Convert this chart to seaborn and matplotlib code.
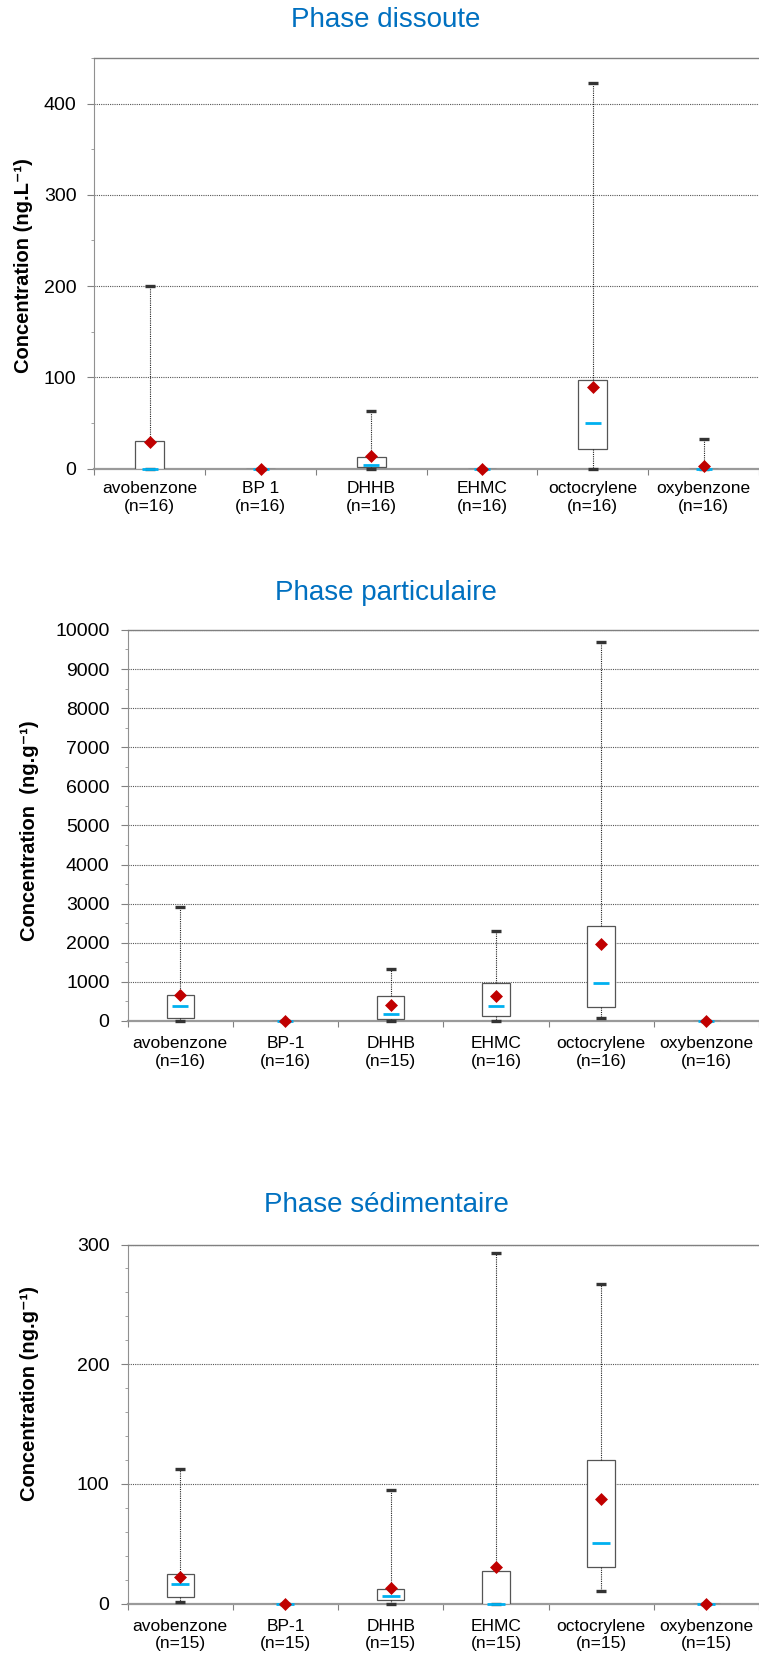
import numpy as np
import pandas as pd
import matplotlib
matplotlib.use("Agg")
import matplotlib.pyplot as plt
from matplotlib.ticker import MultipleLocator, FixedLocator
import seaborn as sns

# ---------------- data ----------------
title_1 = "Phase dissoute"
ylabel_1 = "Concentration (ng.L⁻¹)"
cats_1 = ["avobenzone", "BP 1", "DHHB", "EHMC", "octocrylene", "oxybenzone"]
n_1 = [16, 16, 16, 16, 16, 16]
min_1 = [0, 0, 0, 0, 0, 0]
q1_1 = [0, 0, 2, 0, 22, 0]
med_1 = [0, 0, 4, 0, 49.6, 0]
q3_1 = [30.7, 0, 13, 0, 97.4, 0]
max_1 = [200, 0, 63.5, 0, 422, 33]
mean_1 = [29, 0, 14, 0, 90, 3]

title_2 = "Phase particulaire"
ylabel_2 = "Concentration  (ng.g⁻¹)"
cats_2 = ["avobenzone", "BP-1", "DHHB", "EHMC", "octocrylene", "oxybenzone"]
n_2 = [16, 16, 15, 16, 16, 16]
min_2 = [0, 0, 0, 0, 80, 0]
q1_2 = [76, 0, 60, 120, 350, 0]
med_2 = [390, 0, 170, 370, 980, 0]
q3_2 = [660, 0, 650, 980, 2430, 0]
max_2 = [2920, 0, 1330, 2310, 9700, 0]
mean_2 = [670, 0, 400, 635, 1965, 0]

title_3 = "Phase sédimentaire"
ylabel_3 = "Concentration (ng.g⁻¹)"
cats_3 = ["avobenzone", "BP-1", "DHHB", "EHMC", "octocrylene", "oxybenzone"]
n_3 = [15, 15, 15, 15, 15, 15]
min_3 = [1, 0, 0, 0, 10.4, 0]
q1_3 = [5.6, 0, 3.1, 0, 30.3, 0]
med_3 = [16.3, 0, 6.7, 0, 51, 0]
q3_3 = [25, 0, 12.4, 27.5, 119.7, 0]
max_3 = [112.6, 0, 94.7, 293, 267, 0]
mean_3 = [22, 0, 13.2, 30.5, 87.4, 0]

# ---------------- style ----------------
sns.set_theme(style="white")
plt.rcParams["font.family"] = ["Liberation Sans", "DejaVu Sans"]

TITLE_COLOR = "#0070C0"
MEDIAN_COLOR = "#00B0F0"
MEAN_COLOR = "#C00000"
CAP_COLOR = "#333333"

panels = [
    dict(title=title_1, ylabel=ylabel_1, cats=cats_1, n=n_1, mn=min_1, q1=q1_1, med=med_1,
         q3=q3_1, mx=max_1, mean=mean_1, rect=[0.1244, 0.7168, 0.8756, 0.2482],
         ylim=(0, 450), major=100, minor=50, title_y=0.9835, lab_xy=(-0.1074, 0.495),
         box_w=0.26, med_size=11, xpad=9),
    dict(title=title_2, ylabel=ylabel_2, cats=cats_2, n=n_2, mn=min_2, q1=q1_2, med=med_2,
         q3=q3_2, mx=max_2, mean=mean_2, rect=[0.1682, 0.3831, 0.8318, 0.2363],
         ylim=(0, 10000), major=1000, minor=500, title_y=0.6375, lab_xy=(-0.155, 0.487),
         box_w=0.26, med_size=12, xpad=11),
    dict(title=title_3, ylabel=ylabel_3, cats=cats_3, n=n_3, mn=min_3, q1=q1_3, med=med_3,
         q3=q3_3, mx=max_3, mean=mean_3, rect=[0.1682, 0.0311, 0.8318, 0.2169],
         ylim=(0, 300), major=100, minor=20, title_y=0.2675, lab_xy=(-0.155, 0.584),
         box_w=0.26, med_size=12.5, xpad=11),
]

fig = plt.figure(figsize=(7.59, 16.55), dpi=100)

for p in panels:
    ax = fig.add_axes(p["rect"])
    labels = [f"{c}\n(n={n})" for c, n in zip(p["cats"], p["n"])]
    stats = np.column_stack([p["mn"], p["q1"], p["med"], p["q3"], p["mx"]])
    df = pd.DataFrame({"cat": np.repeat(labels, 5), "val": stats.ravel()})

    sns.boxplot(
        data=df, x="cat", y="val", order=labels, ax=ax,
        whis=(0, 100), width=p["box_w"], color="white", linecolor="#555555",
        linewidth=0.9, showfliers=False, showcaps=False,
        boxprops=dict(facecolor="white", edgecolor="#555555", zorder=2),
        whiskerprops=dict(color="#222222", linestyle=(0, (1, 1)), linewidth=0.8),
        medianprops=dict(visible=False),
    )

    # whisker caps (min / max)
    for ends in (p["mn"], p["mx"]):
        sns.stripplot(x=labels, y=ends, order=labels, ax=ax, jitter=False,
                      marker="_", size=6.8, linewidth=2.4, color=CAP_COLOR,
                      clip_on=False, zorder=3)
    # medians
    sns.stripplot(x=labels, y=p["med"], order=labels, ax=ax, jitter=False,
                  marker="_", size=p["med_size"], linewidth=2.0, color=MEDIAN_COLOR,
                  clip_on=False, zorder=4)
    # means
    sns.stripplot(x=labels, y=p["mean"], order=labels, ax=ax, jitter=False,
                  marker="D", size=6.6, linewidth=0, color=MEAN_COLOR,
                  clip_on=False, zorder=5)

    ax.set_xlim(-0.5, len(labels) - 0.5)
    ax.set_ylim(*p["ylim"])
    ax.yaxis.set_major_locator(MultipleLocator(p["major"]))
    ax.yaxis.set_minor_locator(MultipleLocator(p["minor"]))
    ax.xaxis.set_major_locator(FixedLocator(range(len(labels))))
    ax.set_xticklabels(labels)
    ax.xaxis.set_minor_locator(FixedLocator(np.arange(-0.5, len(labels), 1.0)))

    ax.tick_params(axis="x", which="major", length=0, pad=p["xpad"], labelsize=12.5,
                   labelcolor="black")
    ax.tick_params(axis="x", which="minor", length=4, width=0.8, color="#808080",
                   direction="out", bottom=True)
    ax.tick_params(axis="y", which="major", length=5, width=0.8, color="#808080",
                   direction="out", left=True, pad=8, labelsize=14, labelcolor="black")
    ax.tick_params(axis="y", which="minor", length=2.5, width=0.6, color="#909090",
                   direction="out", left=True)
    for t in ax.get_xticklabels():
        t.set_linespacing(1.2)

    ax.set_axisbelow(True)
    ax.yaxis.grid(True, which="major", linestyle=(0, (1, 1)), color="#555555", linewidth=0.8)
    ax.xaxis.grid(False)

    ax.spines["right"].set_visible(False)
    ax.spines["top"].set_color("#808080")
    ax.spines["top"].set_linewidth(1.0)
    ax.spines["left"].set_color("#909090")
    ax.spines["left"].set_linewidth(0.8)
    ax.spines["bottom"].set_color("#9a9a9a")
    ax.spines["bottom"].set_linewidth(1.6)
    ax.spines["bottom"].set_zorder(1)

    ax.set_xlabel("")
    ax.set_ylabel(p["ylabel"], fontsize=14.5, fontweight="bold", color="black")
    ax.yaxis.set_label_coords(*p["lab_xy"])
    ax.yaxis.label.set_verticalalignment("center")
    ax.yaxis.label.set_horizontalalignment("center")

    fig.text(0.5087, p["title_y"], p["title"], color=TITLE_COLOR, fontsize=20,
             ha="center", va="baseline")

fig.savefig("out.png", dpi=100)
